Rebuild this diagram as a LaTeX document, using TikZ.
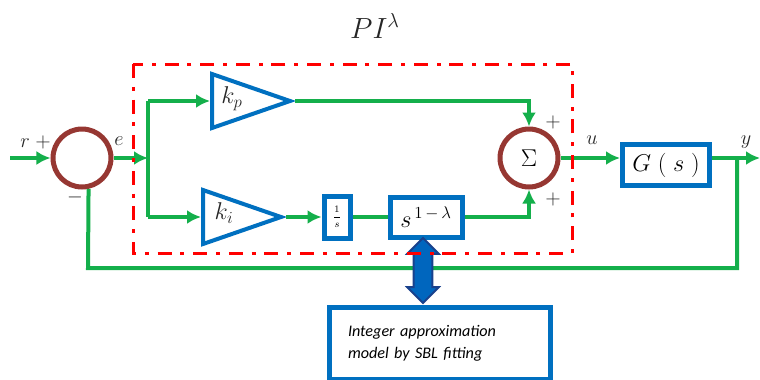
\documentclass[tikz,border=0pt]{standalone}
\usepackage{fontspec}
\newfontfamily\notefont{Carlito}
\usetikzlibrary{shapes.geometric,shapes.arrows,arrows.meta,calc}
\definecolor{linegreen}{RGB}{20,175,75}
\definecolor{boxblue}{RGB}{0,112,192}
\definecolor{sumbrown}{RGB}{150,55,50}
\definecolor{dashred}{RGB}{255,0,0}
\definecolor{arrowblue}{RGB}{0,102,190}
\definecolor{arrowedge}{RGB}{25,65,140}

\begin{document}
\begin{tikzpicture}[x=0.25mm, y=-0.25mm,
  blk/.style={draw=boxblue, line width=1.25mm, rectangle, inner sep=0pt},
  amp/.style={draw=boxblue, line width=1mm, isosceles triangle, isosceles triangle stretches, minimum width=13.5mm, minimum height=19.5mm, inner sep=0pt},
  sum/.style={draw=sumbrown, line width=1.25mm, circle, minimum size=14.5mm, inner sep=0pt},
  wire/.style={draw=linegreen, line width=1mm},
  arr/.style={wire, -{Latex[length=3.5mm,width=3.5mm]}},
  sig/.style={font=\fontsize{14}{16}\selectfont, text=black!85},
  gain/.style={font=\fontsize{17}{20}\selectfont, text=black!85},
  dbl/.style={double arrow, shape border rotate=90, draw=arrowedge, fill=arrowblue, line width=0.5mm, minimum height=16.25mm, minimum width=7.5mm, double arrow head extend=1.6mm, inner sep=2.1mm},
  pibox/.style={draw=dashred, line width=0.75mm, dash pattern=on 3.5mm off 2.2mm on 1mm off 2.2mm}
]
\useasboundingbox (0,0) rectangle (760,379);

\node[font=\fontsize{21}{24}\selectfont, text=black!85] (pilbl) at (375,26) {$PI^{\lambda}$};

\node[sum] (sum1) at (82,158) {};
\node[sum, font=\fontsize{16}{18}\selectfont] (sum2) at (529,158) {$\Sigma$};
\node[amp, anchor=lower side] (kp) at (210,101) {};
\node[amp, anchor=lower side] (ki) at (201,217) {};
\node[blk, minimum width=6.5mm, minimum height=10.5mm, font=\fontsize{7}{8}\selectfont] (inv) at (337,217) {$\displaystyle\frac{1}{s}$};
\node[blk, minimum width=18mm, minimum height=10mm, font=\fontsize{18}{20}\selectfont] (frac) at (426,217) {$s^{\,1\,-\,\lambda}$};
\node[blk, minimum width=21.75mm, minimum height=10.25mm, font=\fontsize{17}{20}\selectfont] (plant) at (666,165) {$G\;(\;s\;)$};
\node[blk, minimum width=55.25mm, minimum height=18mm, text width=46mm, align=left, font=\notefont\itshape\fontsize{11.5}{15.5}\selectfont] (note) at (440,343.5) {Integer approximation\\model by SBL fitting};

\node[gain] (kplbl) at (232,99) {$k_p$};
\node[gain] (kilbl) at (224,213) {$k_i$};
\node[sig] (rlbl) at (25,143) {$r$};
\node[sig] (rsign) at (43,142) {$+$};
\node[sig] (elbl) at (119,141) {$e$};
\node[sig] (msign) at (75,197) {$-$};
\node[sig] (psign1) at (553,122) {$+$};
\node[sig] (psign2) at (553,199) {$+$};
\node[sig] (ulbl) at (592,140) {$u$};
\node[sig] (ylbl) at (746,142) {$y$};

\coordinate (in) at (10,158);
\coordinate (split) at (148,158);
\coordinate (ptop) at (148,101);
\coordinate (pbot) at (148,217);
\coordinate (tap) at (737,158);
\coordinate (out) at (760,158);
\coordinate (fbc) at (88,268);

\draw[arr] (in) -- (sum1);
\draw[arr] (sum1) -- (split);
\draw[wire] (ptop) -- (pbot);
\draw[arr] (ptop) -- (kp.lower side);
\draw[arr] (pbot) -- (ki.lower side);
\draw[arr] (kp.apex) -| (sum2.north);
\draw[arr] (ki.apex) -- (inv.west);
\draw[wire] (inv) -- (frac);
\draw[arr] (frac.east) -| (sum2.south);
\draw[arr] (sum2) -- (sum2 -| plant.west);
\draw[arr] (plant.east |- sum2) -- (out);
\draw[wire] (tap) |- (fbc) -- (sum1.-78);

\node[dbl] (adj) at (423,270.5) {};
\draw[pibox] (133,64) rectangle (572,253);
\end{tikzpicture}
\end{document}
